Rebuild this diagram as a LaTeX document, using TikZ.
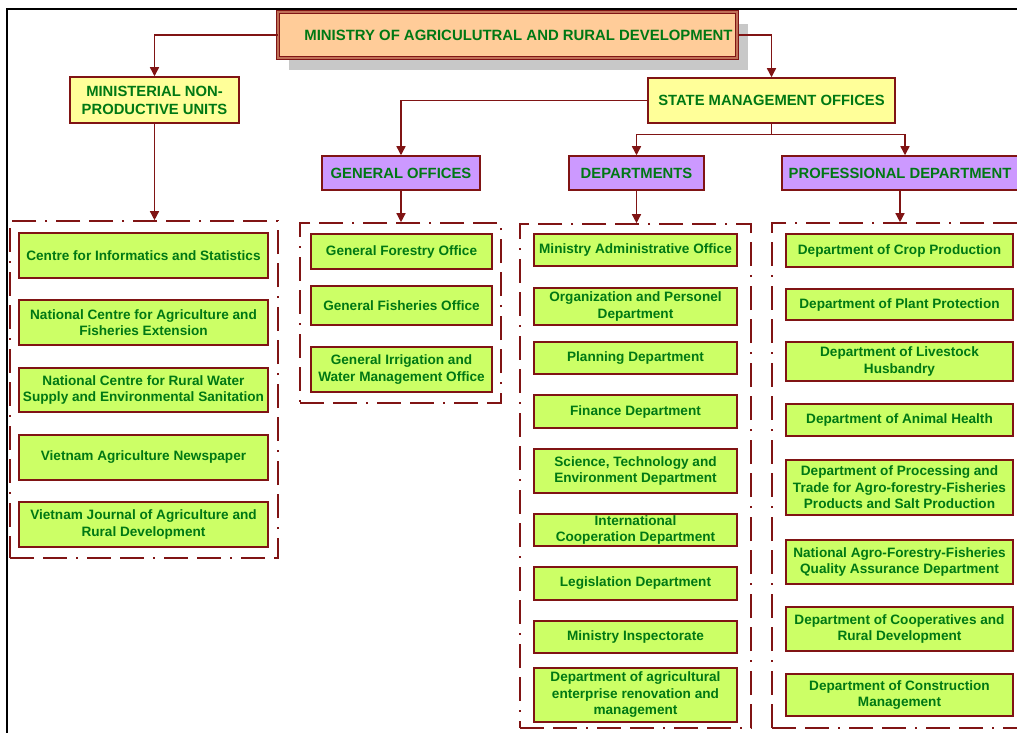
\documentclass[tikz,border=0pt]{standalone}
\usepackage{fontspec}
\setmainfont{Liberation Sans}
\usetikzlibrary{arrows.meta,shadows}
\definecolor{brd}{RGB}{128,20,20}
\definecolor{grn}{RGB}{0,120,20}
\definecolor{lime}{RGB}{204,255,102}
\definecolor{pale}{RGB}{255,255,153}
\definecolor{lilac}{RGB}{204,153,255}
\definecolor{peach}{RGB}{255,204,153}
\definecolor{shade}{RGB}{200,200,200}
\tikzset{
  box/.style={draw=brd,line width=1.5pt,text=grn,font=\bfseries\fontsize{13.6}{16.5}\selectfont,align=center,inner sep=1pt},
  unit/.style={box,fill=lime},
  head/.style={box,fill=pale,font=\bfseries\fontsize{14.8}{18}\selectfont},
  sect/.style={box,fill=lilac,font=\bfseries\fontsize{14.8}{18}\selectfont},
  group/.style={draw=brd,line width=1.6pt,dash pattern=on 24pt off 9pt on 24pt off 9pt on 2pt off 9pt,inner sep=0pt},
  link/.style={draw=brd,line width=1.4pt,->},
}
\begin{document}
\begin{tikzpicture}[x=1pt,y=-1pt,>={Triangle[width=9pt,length=9pt]},line join=miter]
\useasboundingbox (0,0) rectangle (1017,733);
\draw[line width=1.5pt] (7,733)--(7,9)--(1017,9);
% top level
\node[box,fill=peach,double=brd!50!peach,double distance=1.2pt,line width=1pt,font=\bfseries\fontsize{14.9}{17}\selectfont,
  minimum width=459,minimum height=46,general shadow={fill=shade,shadow xshift=11pt,shadow yshift=-12pt}]
  (mini) at (507.5,35) {\hspace*{22pt}MINISTRY OF AGRICULUTRAL AND RURAL DEVELOPMENT};
\node[head,minimum width=169,minimum height=46] (nonprod) at (154.5,100) {MINISTERIAL NON-\\PRODUCTIVE UNITS};
\node[head,minimum width=247,minimum height=45] (state) at (771.5,100.5) {STATE MANAGEMENT OFFICES};
\node[sect,minimum width=158,minimum height=34] (genoff) at (401,173) {GENERAL OFFICES};
\node[sect,minimum width=135,minimum height=34] (dept) at (636.5,173) {DEPARTMENTS};
\node[sect,minimum width=236,minimum height=34] (prof) at (900,173) {PROFESSIONAL DEPARTMENT};
% dashed groups
\node[group,minimum width=268,minimum height=337] (grpA) at (144,389.5) {};
\node[group,minimum width=201,minimum height=180] (grpB) at (400.5,313) {};
\node[group,minimum width=231,minimum height=504] (grpC) at (635.5,476) {};
\node[group,minimum width=255,minimum height=505] (grpD) at (899.5,475.5) {};
% non-productive units
\node[unit,minimum width=249,minimum height=45] (a1) at (143.5,255.5) {Centre for Informatics and Statistics};
\node[unit,minimum width=249,minimum height=45] (a2) at (143.5,322.5) {National Centre for Agriculture and\\Fisheries Extension};
\node[unit,minimum width=249,minimum height=44] (a3) at (143.5,390) {National Centre for Rural Water\\Supply and Environmental Sanitation};
\node[unit,minimum width=249,minimum height=45] (a4) at (143.5,457.5) {Vietnam Agriculture Newspaper};
\node[unit,minimum width=249,minimum height=45] (a5) at (143.5,524.5) {Vietnam Journal of Agriculture and\\Rural Development};
% general offices
\node[unit,minimum width=181,minimum height=35] (b1) at (401.5,251.5) {General Forestry Office};
\node[unit,minimum width=181,minimum height=39] (b2) at (401.5,305.5) {General Fisheries Office};
\node[unit,minimum width=181,minimum height=45] (b3) at (401.5,369.5) {General Irrigation and\\Water Management Office};
% departments
\node[unit,minimum width=203,minimum height=32] (c1) at (635.5,250) {Ministry Administrative Office};
\node[unit,minimum width=203,minimum height=37] (c2) at (635.5,306.5) {Organization and Personel\\Department};
\node[unit,minimum width=203,minimum height=32] (c3) at (635.5,358) {Planning Department};
\node[unit,minimum width=203,minimum height=33] (c4) at (635.5,411.5) {Finance Department};
\node[unit,minimum width=203,minimum height=44] (c5) at (635.5,471) {Science, Technology and\\Environment Department};
\node[unit,minimum width=203,minimum height=32] (c6) at (635.5,530) {International\\Cooperation Department};
\node[unit,minimum width=203,minimum height=33] (c7) at (635.5,583.5) {Legislation Department};
\node[unit,minimum width=203,minimum height=32] (c8) at (635.5,637) {Ministry Inspectorate};
\node[unit,minimum width=203,minimum height=54] (c9) at (635.5,695) {Department of agricultural\\enterprise renovation and\\management};
% professional departments
\node[unit,minimum width=227,minimum height=33] (d1) at (899.5,250.5) {Department of Crop Production};
\node[unit,minimum width=227,minimum height=31] (d2) at (899.5,304.5) {Department of Plant Protection};
\node[unit,minimum width=227,minimum height=39] (d3) at (899.5,361.5) {Department of Livestock\\Husbandry};
\node[unit,minimum width=227,minimum height=32] (d4) at (899.5,420) {Department of Animal Health};
\node[unit,minimum width=227,minimum height=55] (d5) at (899.5,487.5) {Department of Processing and\\Trade for Agro-forestry-Fisheries\\Products and Salt Production};
\node[unit,minimum width=227,minimum height=44] (d6) at (899.5,562) {National Agro-Forestry-Fisheries\\Quality Assurance Department};
\node[unit,minimum width=227,minimum height=44] (d7) at (899.5,629) {Department of Cooperatives and\\Rural Development};
\node[unit,minimum width=227,minimum height=42] (d8) at (899.5,695) {Department of Construction\\Management};
% connectors
\draw[link] (mini.west) -| (nonprod.north);
\draw[link] (mini.east) -| (state.north);
\draw[link] (state.west) -| (genoff.north);
\coordinate (fork) at ([yshift=-11pt]state.south);
\draw[brd,line width=1.4pt] (state.south) -- (fork);
\draw[link] (fork) -| (dept.north);
\draw[link] (fork) -| ([xshift=5pt]prof.north);
\draw[link] (nonprod.south) -- (nonprod.south |- grpA.north);
\draw[link] (genoff.south) -- (genoff.south |- grpB.north);
\draw[link] (dept.south) -- (dept.south |- grpC.north);
\draw[link] (prof.south) -- (prof.south |- grpD.north);
\end{tikzpicture}
\end{document}
